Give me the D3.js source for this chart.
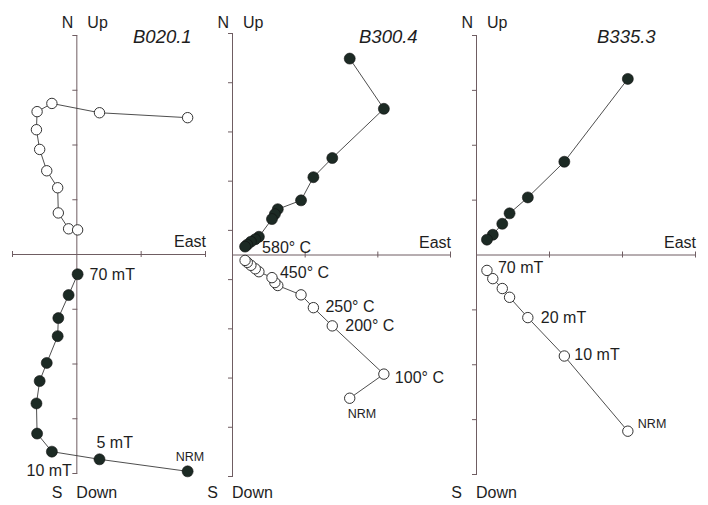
<!DOCTYPE html>
<html lang="en">
<head>
  <meta charset="UTF-8">
  <title>Zijderveld diagrams</title>
  <script src="https://cdn.jsdelivr.net/npm/d3@7/dist/d3.min.js"></script>
  <style>
    * {
      margin: 0;
      padding: 0;
    }
    body {
      background: #fff;
    }
    svg {
      display: block;
      font-family: "Liberation Sans", Arial, sans-serif;
    }
  </style>
</head>
<body>
  <div id="chart"></div>
  <script>
  // ---- data (one tick = 1 unit) ----
  var specimens = ['B020.1', 'B300.4', 'B335.3'];

  // B020.1, AF steps NRM .. 70 mT
  var eastB020  = [1.73, 0.36, -0.38, -0.61, -0.62, -0.57, -0.46, -0.29, -0.28, -0.12, 0.02];
  var northB020 = [-3.97, -3.75, -3.61, -3.28, -2.73, -2.32, -1.99, -1.50, -1.17, -0.75, -0.37];
  var upB020    = [2.49, 2.58, 2.75, 2.60, 2.27, 1.91, 1.52, 1.21, 0.75, 0.46, 0.44];
  var notesB020 = [
    {text: 'NRM', proj: 'hz', i: 0},
    {text: '5 mT', proj: 'hz', i: 1},
    {text: '10 mT', proj: 'hz', i: 2},
    {text: '70 mT', proj: 'hz', i: 10}
  ];

  // B300.4, thermal steps NRM .. 580 C
  var eastB300  = [1.62, 2.09, 1.38, 1.12, 0.95, 0.63, 0.59, 0.55, 0.37, 0.32, 0.26, 0.21, 0.18];
  var northB300 = [3.98, 2.96, 1.96, 1.57, 1.10, 0.92, 0.82, 0.72, 0.36, 0.31, 0.26, 0.20, 0.16];
  var upB300    = [-2.92, -2.43, -1.45, -1.08, -0.82, -0.63, -0.57, -0.47, -0.35, -0.29, -0.22, -0.16, -0.12];
  var notesB300 = [
    {text: 'NRM', proj: 'vt', i: 0},
    {text: '100° C', proj: 'vt', i: 1},
    {text: '200° C', proj: 'vt', i: 2},
    {text: '250° C', proj: 'vt', i: 3},
    {text: '450° C', proj: 'vt', i: 7},
    {text: '580° C', proj: 'hz', i: 12}
  ];

  // B335.3, AF steps NRM .. 70 mT
  var eastB335  = [2.08, 1.21, 0.71, 0.46, 0.36, 0.23, 0.15];
  var northB335 = [3.20, 1.69, 1.04, 0.75, 0.56, 0.36, 0.27];
  var upB335    = [-3.22, -1.85, -1.15, -0.78, -0.62, -0.44, -0.29];
  var notesB335 = [
    {text: 'NRM', proj: 'vt', i: 0},
    {text: '10 mT', proj: 'vt', i: 1},
    {text: '20 mT', proj: 'vt', i: 2},
    {text: '70 mT', proj: 'vt', i: 6}
  ];

  // ---- layout ----
  var width = 708, height = 505;
  var axisColor = '#6f5d62';
  var lineColor = '#3a3a3a';
  var textColor = '#1e1e1e';
  var dotFill = '#1c2a24';

  var panels = [
    {
      name: specimens[0], east: eastB020, north: northB020, up: upB020, notes: notesB020,
      xDomain: [-1, 2], xRange: [12, 205], yDomain: [-4, 4], yRange: [473, 35],
      xTicks: [-1, 1, 2], yTicks: [-4, -3, -2, -1, 1, 2, 3, 4],
      titleX: 133,
      offsets: [[-12, -10, 'start'], [-3, -11, 'start'], [20, 24, 'end'], [12, 6, 'start']]
    },
    {
      name: specimens[1], east: eastB300, north: northB300, up: upB300, notes: notesB300,
      xDomain: [0, 3], xRange: [232, 450], yDomain: [-4.5, 4.5], yRange: [476, 33],
      xTicks: [1, 2, 3], yTicks: [-4.5, -3.5, -2.5, -1.5, -0.5, 0.5, 1.5, 2.5, 3.5, 4.5],
      titleX: 359,
      offsets: [[-2, 20, 'start'], [11, 9, 'start'], [13, 5, 'start'], [12, 4, 'start'], [8, 0, 'start'], [17, 6, 'start']]
    },
    {
      name: specimens[2], east: eastB335, north: northB335, up: upB335, notes: notesB335,
      xDomain: [0, 3], xRange: [476, 695], yDomain: [-4, 4], yRange: [474, 35],
      xTicks: [1, 2, 3], yTicks: [-4, -3, -2, -1, 1, 2, 3, 4],
      titleX: 597,
      offsets: [[10, -3, 'start'], [10, 4, 'start'], [13, 5, 'start'], [11, 3, 'start']]
    }
  ];

  var svg = d3.select('#chart').append('svg')
      .attr('width', width)
      .attr('height', height);

  svg.append('rect')
    .attr('width', width)
    .attr('height', height)
    .attr('fill', '#fff');

  panels.forEach(function (p) {
    var g = svg.append('g').attr('class', 'panel');
    var x = d3.scaleLinear().domain(p.xDomain).range(p.xRange);
    var y = d3.scaleLinear().domain(p.yDomain).range(p.yRange);
    var x0 = x(0), y0 = y(0);

    // vertical axis (N-Up / S-Down)
    var yAxis = g.append('g')
      .attr('transform', 'translate(' + x0 + ',0)')
      .call(d3.axisLeft(y).tickValues(p.yTicks).tickFormat('').tickSizeOuter(0));
    yAxis.selectAll('.tick line').attr('x1', 1).attr('x2', -4);

    // horizontal axis (East)
    var xAxis = g.append('g')
      .attr('transform', 'translate(0,' + y0 + ')')
      .call(d3.axisBottom(x).tickValues(p.xTicks).tickFormat('').tickSizeOuter(0));
    xAxis.selectAll('.tick line').attr('y1', -3).attr('y2', 3);

    g.selectAll('.domain, .tick line')
      .attr('stroke', axisColor)
      .attr('stroke-width', 1);

    // axis labels
    var lab = function (t, tx, ty, anchor) {
      g.append('text')
        .attr('x', tx).attr('y', ty)
        .attr('text-anchor', anchor || 'start')
        .attr('fill', textColor)
        .style('font-size', '16px')
        .text(t);
    };
    lab('N', x0 - 3, 28, 'end');
    lab('Up', x0 + 11, 28);
    lab('S', x0 - 14, 498, 'end');
    lab('Down', x0, 498);
    lab('East', p.xRange[1] + 1, y0 - 7, 'end');

    g.append('text')
      .attr('x', p.titleX).attr('y', 43)
      .attr('fill', textColor)
      .style('font-size', '18.5px')
      .style('font-style', 'italic')
      .text(p.name);

    var idx = d3.range(p.east.length);
    var hz = idx.map(function (i) { return [x(p.east[i]), y(p.north[i])]; });
    var vt = idx.map(function (i) { return [x(p.east[i]), y(p.up[i])]; });

    var line = d3.line();
    [hz, vt].forEach(function (pts) {
      g.append('path')
        .attr('d', line(pts))
        .attr('fill', 'none')
        .attr('stroke', lineColor)
        .attr('stroke-width', 0.9);
    });

    // open = vertical projection, filled = horizontal projection
    g.selectAll('.vt')
      .data(vt)
      .enter()
      .append('circle')
        .attr('class', 'vt')
        .attr('cx', function (d) { return d[0]; })
        .attr('cy', function (d) { return d[1]; })
        .attr('r', 5.2)
        .attr('fill', '#fff')
        .attr('stroke', '#333')
        .attr('stroke-width', 1);

    g.selectAll('.hz')
      .data(hz)
      .enter()
      .append('circle')
        .attr('class', 'hz')
        .attr('cx', function (d) { return d[0]; })
        .attr('cy', function (d) { return d[1]; })
        .attr('r', 5.5)
        .attr('fill', dotFill)
        .attr('stroke', '#111')
        .attr('stroke-width', 0.6);

    // step labels
    p.notes.forEach(function (n, k) {
      var pt = n.proj === 'hz' ? hz[n.i] : vt[n.i];
      var off = p.offsets[k];
      g.append('text')
        .attr('x', pt[0] + off[0])
        .attr('y', pt[1] + off[1])
        .attr('text-anchor', off[2])
        .attr('fill', textColor)
        .style('font-size', n.text === 'NRM' ? '12.5px' : '16px')
        .text(n.text);
    });
  });
  </script>
</body>
</html>
